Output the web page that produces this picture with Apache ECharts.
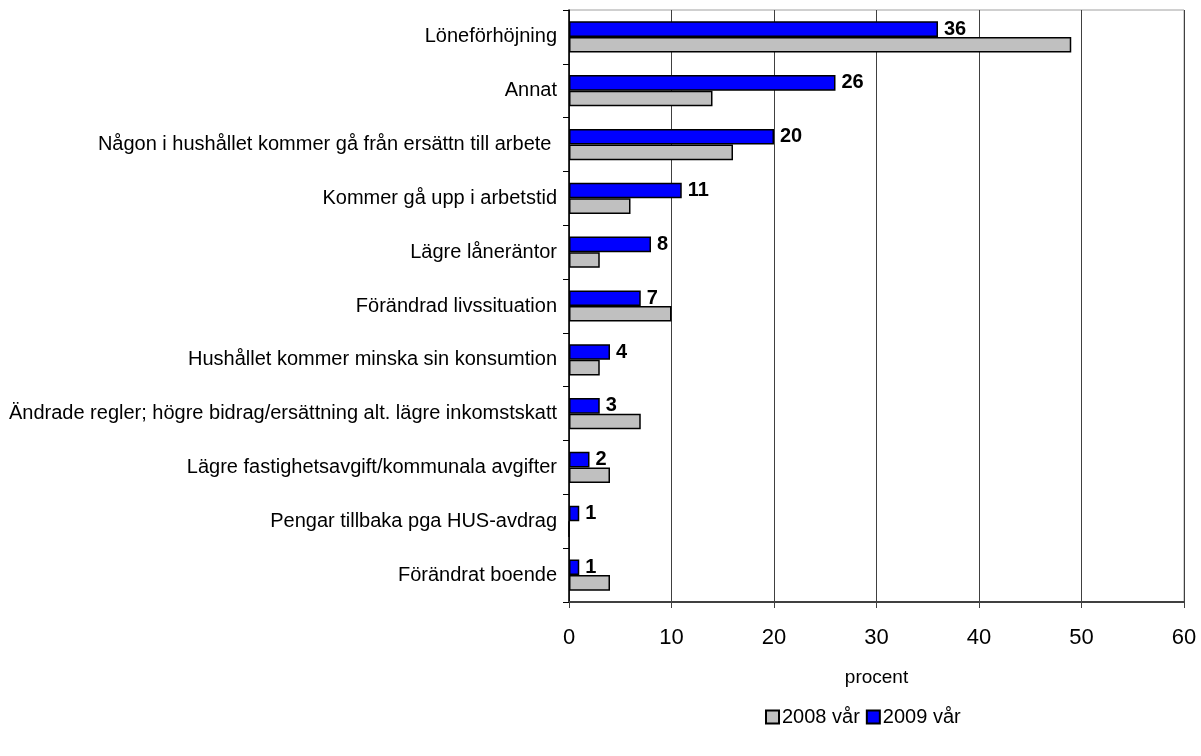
<!DOCTYPE html>
<html><head><meta charset="utf-8">
<script src="https://cdn.jsdelivr.net/npm/echarts@6/dist/echarts.min.js"></script>
<style>html,body{margin:0;padding:0;background:#fff}#c{width:1201px;height:756px}</style>
</head><body><div id="c"></div>
<script>
var categories = ["Löneförhöjning","Annat","Någon i hushållet kommer gå från ersättn till arbete ","Kommer gå upp i arbetstid","Lägre låneräntor","Förändrad livssituation","Hushållet kommer minska sin konsumtion","Ändrade regler; högre bidrag/ersättning alt. lägre inkomstskatt","Lägre fastighetsavgift/kommunala avgifter","Pengar tillbaka pga HUS-avdrag","Förändrat boende"];
var values2008 = [49,14,16,6,3,10,3,7,4,0,4];
var values2009 = [36,26,20,11,8,7,4,3,2,1,1];
var xTicks = [0,10,20,30,40,50,60];
var seriesNames = ["2008 vår","2009 vår"];
var FONT = "'Liberation Sans', Arial, sans-serif";
var chart = echarts.init(document.getElementById('c'));
chart.setOption({
  animation:false,
  textStyle:{fontFamily:FONT},
  grid:{left:569,right:17,top:10,bottom:154,containLabel:false,show:true,borderColor:'#a0a0a0',borderWidth:1},
  legend:{
    data:seriesNames, bottom:24, left:760, itemWidth:13, itemHeight:13, itemGap:6,
    icon:'rect',
    textStyle:{fontFamily:FONT,fontSize:20,color:'#000',padding:[0,0,0,-2]}
  },
  xAxis:{
    type:'value', min:xTicks[0], max:xTicks[xTicks.length-1], interval:10,
    name:'procent', nameLocation:'middle', nameGap:66,
    nameTextStyle:{fontFamily:FONT,fontSize:19,color:'#000'},
    axisLine:{show:true,lineStyle:{color:'#404040',width:2}},
    axisTick:{show:true,length:6,lineStyle:{color:'#404040'}},
    axisLabel:{fontFamily:FONT,fontSize:22,color:'#000',margin:25},
    splitLine:{show:true,lineStyle:{color:'#404040',width:1}}
  },
  yAxis:{
    type:'category', data:categories, inverse:true,
    axisLine:{show:true,lineStyle:{color:'#000',width:1.5}},
    axisTick:{show:true,length:6,inside:false,lineStyle:{color:'#000'}},
    axisLabel:{fontFamily:FONT,fontSize:20,color:'#000',margin:12}
  },
  series:[
    {name:seriesNames[1],type:'bar',data:values2009,barGap:'0%',barCategoryGap:'42%',
     itemStyle:{color:'#0000FF',borderColor:'#000',borderWidth:1.5},z:3,
     label:{show:true,position:'right',distance:6,fontFamily:FONT,fontSize:20,fontWeight:'bold',color:'#000'}},
    {name:seriesNames[0],type:'bar',data:values2008,barGap:'0%',barCategoryGap:'42%',
     itemStyle:{color:'#C0C0C0',borderColor:'#000',borderWidth:1.5},z:2}
  ]
});
</script></body></html>
